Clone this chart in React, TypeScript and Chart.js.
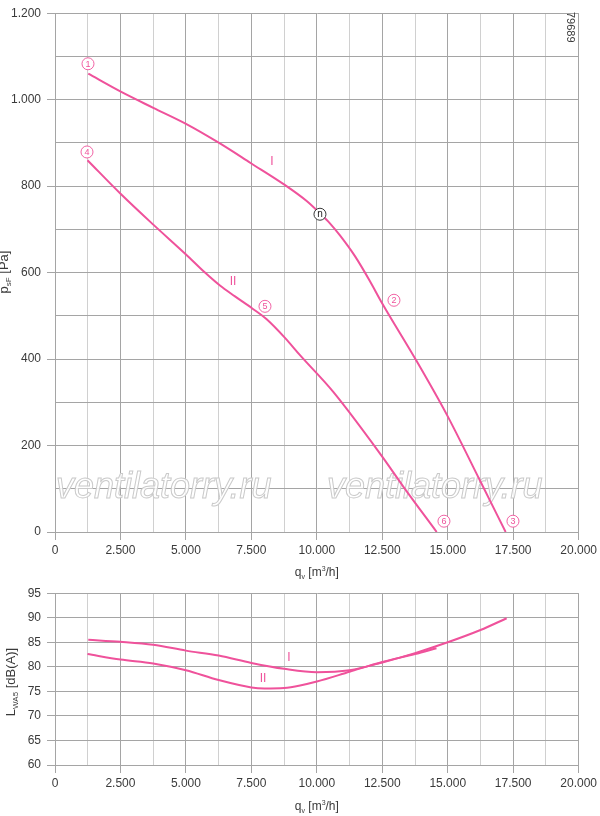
import React, { useEffect, useRef } from 'react';
import Chart from 'chart.js/auto';

// ---- data ----
const flowTicks = [0, 2500, 5000, 7500, 10000, 12500, 15000, 17500, 20000];
const pressureTicks = [0, 200, 400, 600, 800, 1000, 1200];
const soundTicks = [60, 65, 70, 75, 80, 85, 90, 95];

// curve I, static pressure [Pa]
const pressureFlowI = [1270, 2494, 3754, 5003, 6236, 7485, 8746, 9624, 10120, 10500, 10884, 11456, 12030, 12477, 13787, 14959, 16231, 17212];
const pressureI = [1060, 1019, 981, 944, 901, 853, 804, 765, 737, 714, 686, 638, 580, 531, 398, 272, 119, 0];

// curve II, static pressure [Pa]
const pressureFlowII = [1240, 2494, 3754, 5003, 5728, 6301, 6874, 7512, 8085, 8784, 9357, 10628, 12477, 13302, 14577];
const pressureII = [860, 783, 711, 642, 600, 570, 545, 518, 492, 449, 409, 324, 176, 105, 0];

// curve I, sound power [dB(A)]
const soundFlowI = [1270, 2500, 3750, 5000, 6250, 7500, 8750, 10000, 11250, 12500, 13750, 15000, 16250, 17250];
const soundI = [85.5, 85.1, 84.5, 83.3, 82.3, 80.8, 79.6, 78.9, 79.3, 80.9, 82.8, 85.0, 87.5, 89.9];

// curve II, sound power [dB(A)]
const soundFlowII = [1240, 2500, 3750, 5000, 6250, 7500, 8000, 8750, 9360, 10000, 11250, 12500, 13750, 14570];
const soundII = [82.6, 81.5, 80.7, 79.3, 77.3, 75.8, 75.6, 75.7, 76.2, 77.0, 79.0, 81.0, 82.6, 83.8];

// circled markers on the pressure chart (data coords)
const pressureMarks = [
  { text: '1', x: 1260, y: 1083 },
  { text: '4', x: 1222, y: 879 },
  { text: '5', x: 8020, y: 522 },
  { text: '2', x: 12946, y: 536 },
  { text: '6', x: 14856, y: 25 },
  { text: '3', x: 17491, y: 25 },
];
const operatingPoint = { text: 'n', x: 10120, y: 735 };
const pressureCurveNames = [
  { text: 'I', x: 8287, y: 856 },
  { text: 'II', x: 6798, y: 579 },
];
const soundCurveNames = [
  { text: 'I', x: 8936, y: 81.8 },
  { text: 'II', x: 7943, y: 77.6 },
];

const pink = '#ef529b';
const majorGrid = '#a5a5a5';
const minorGrid = '#d0d0d0';
const textColor = '#3a3a3a';
const fontFamily = '"Liberation Sans", Arial, sans-serif';

const fmt = (v: number) => String(v).replace(/\B(?=(\d{3})+(?!\d))/g, '.');
const toPoints = (xs: number[], ys: number[]) => xs.map((x, i) => ({ x, y: ys[i] }));

type Part = { t: string; size: number; dy: number };

function drawParts(ctx: CanvasRenderingContext2D, parts: Part[], cx: number, baseY: number) {
  let total = 0;
  parts.forEach(p => {
    ctx.font = `${p.size}px ${fontFamily}`;
    total += ctx.measureText(p.t).width;
  });
  let x = cx - total / 2;
  ctx.textAlign = 'left';
  ctx.textBaseline = 'alphabetic';
  parts.forEach(p => {
    ctx.font = `${p.size}px ${fontFamily}`;
    ctx.fillText(p.t, x, baseY + p.dy);
    x += ctx.measureText(p.t).width;
  });
}

const flowTitle: Part[] = [
  { t: 'q', size: 12, dy: 0 },
  { t: 'v', size: 7, dy: 3 },
  { t: ' [m', size: 12, dy: 0 },
  { t: '3', size: 7, dy: -5 },
  { t: '/h]', size: 12, dy: 0 },
];
const pressureTitle: Part[] = [
  { t: 'p', size: 13, dy: 0 },
  { t: 'sF', size: 8, dy: 3 },
  { t: ' [Pa]', size: 13, dy: 0 },
];
const soundTitle: Part[] = [
  { t: 'L', size: 13, dy: 0 },
  { t: 'WA5', size: 8, dy: 3 },
  { t: ' [dB(A)]', size: 13, dy: 0 },
];

function xAxis(height: number) {
  return {
    type: 'linear' as const,
    min: 0,
    max: 20000,
    afterFit: (s: any) => { s.height = height; },
    afterBuildTicks: (s: any) => {
      const t = [];
      for (let v = 0; v <= 20000; v += 1250) t.push({ value: v });
      s.ticks = t;
    },
    ticks: {
      autoSkip: false,
      maxRotation: 0,
      padding: 3,
      color: textColor,
      font: { family: fontFamily, size: 12 },
      callback: (v: any) => (flowTicks.includes(Number(v)) ? fmt(Number(v)) : ''),
    },
    grid: {
      tickLength: 8,
      color: (c: any) => (c.tick && c.tick.value % 2500 === 0 ? majorGrid : minorGrid),
      tickColor: (c: any) => (c.tick && c.tick.value % 2500 === 0 ? majorGrid : 'rgba(0,0,0,0)'),
    },
    border: { color: majorGrid },
  };
}

function yAxis(min: number, max: number, step: number, labels: number[]) {
  return {
    type: 'linear' as const,
    min,
    max,
    afterFit: (s: any) => { s.width = 55; },
    afterBuildTicks: (s: any) => {
      const t = [];
      for (let v = min; v <= max; v += step) t.push({ value: v });
      s.ticks = t;
    },
    ticks: {
      autoSkip: false,
      padding: 6,
      color: textColor,
      font: { family: fontFamily, size: 12 },
      callback: (v: any) => (labels.includes(Number(v)) ? fmt(Number(v)) : ''),
    },
    grid: {
      tickLength: 8,
      color: majorGrid,
      tickColor: (c: any) => (c.tick && labels.includes(c.tick.value) ? majorGrid : 'rgba(0,0,0,0)'),
    },
    border: { color: majorGrid },
  };
}

function drawCircled(ctx: CanvasRenderingContext2D, px: number, py: number, text: string, color: string, r: number, size: number) {
  ctx.save();
  ctx.beginPath();
  ctx.arc(px, py, r, 0, Math.PI * 2);
  ctx.fillStyle = '#ffffff';
  ctx.fill();
  ctx.lineWidth = 0.9;
  ctx.strokeStyle = color;
  ctx.stroke();
  ctx.fillStyle = color;
  ctx.font = `${size}px ${fontFamily}`;
  ctx.textAlign = 'center';
  ctx.textBaseline = 'middle';
  ctx.fillText(text, px, py + 0.5);
  ctx.restore();
}

function drawNames(chart: any, names: { text: string; x: number; y: number }[]) {
  const ctx = chart.ctx as CanvasRenderingContext2D;
  ctx.save();
  ctx.fillStyle = pink;
  ctx.font = `12px ${fontFamily}`;
  ctx.textAlign = 'center';
  ctx.textBaseline = 'middle';
  names.forEach(n => {
    ctx.fillText(n.text, chart.scales.x.getPixelForValue(n.x), chart.scales.y.getPixelForValue(n.y));
  });
  ctx.restore();
}

const watermarkPlugin = {
  id: 'watermark',
  beforeDatasetsDraw(chart: any) {
    const ctx = chart.ctx as CanvasRenderingContext2D;
    const a = chart.chartArea;
    ctx.save();
    ctx.font = `italic 36px ${fontFamily}`;
    ctx.textAlign = 'left';
    ctx.textBaseline = 'alphabetic';
    ctx.fillStyle = 'rgba(255,255,255,0.85)';
    ctx.strokeStyle = '#cacaca';
    ctx.lineWidth = 1;
    [a.left + 1, a.left + 272].forEach(x => {
      ctx.fillText('ventilatorry.ru', x, a.bottom - 34);
      ctx.strokeText('ventilatorry.ru', x, a.bottom - 34);
    });
    ctx.restore();
  },
};

const pressurePlugin = {
  id: 'pressureDecor',
  afterDraw(chart: any) {
    const ctx = chart.ctx as CanvasRenderingContext2D;
    const { x, y } = chart.scales;
    const a = chart.chartArea;
    drawNames(chart, pressureCurveNames);
    pressureMarks.forEach(m => drawCircled(ctx, x.getPixelForValue(m.x), y.getPixelForValue(m.y), m.text, pink, 6, 9));
    drawCircled(ctx, x.getPixelForValue(operatingPoint.x), y.getPixelForValue(operatingPoint.y), operatingPoint.text, '#222222', 6, 10);

    ctx.save();
    ctx.fillStyle = textColor;
    drawParts(ctx, flowTitle, (a.left + a.right) / 2, 576);
    ctx.translate(8, 272);
    ctx.rotate(-Math.PI / 2);
    drawParts(ctx, pressureTitle, 0, 0);
    ctx.restore();

    ctx.save();
    ctx.fillStyle = textColor;
    ctx.font = `11px ${fontFamily}`;
    ctx.translate(567, 12);
    ctx.rotate(Math.PI / 2);
    ctx.textAlign = 'left';
    ctx.textBaseline = 'alphabetic';
    ctx.fillText('79689', 0, 0);
    ctx.restore();
  },
};

const soundPlugin = {
  id: 'soundDecor',
  afterDraw(chart: any) {
    const ctx = chart.ctx as CanvasRenderingContext2D;
    const a = chart.chartArea;
    drawNames(chart, soundCurveNames);
    ctx.save();
    ctx.fillStyle = textColor;
    drawParts(ctx, flowTitle, (a.left + a.right) / 2, 230);
    ctx.translate(15, 102);
    ctx.rotate(-Math.PI / 2);
    drawParts(ctx, soundTitle, 0, 0);
    ctx.restore();
  },
};

function lineSet(label: string, xs: number[], ys: number[]) {
  return {
    label,
    data: toPoints(xs, ys),
    borderColor: pink,
    borderWidth: 2,
    pointRadius: 0,
    cubicInterpolationMode: 'monotone' as const,
    fill: false,
  };
}

const App: React.FC = () => {
  const topRef = useRef<HTMLCanvasElement | null>(null);
  const bottomRef = useRef<HTMLCanvasElement | null>(null);

  useEffect(() => {
    if (!topRef.current || !bottomRef.current) return;

    const top = new Chart(topRef.current, {
      type: 'line',
      data: {
        datasets: [
          lineSet('I', pressureFlowI, pressureI),
          lineSet('II', pressureFlowII, pressureII),
        ],
      },
      options: {
        animation: false,
        responsive: false,
        layout: { padding: { left: 0, right: 21, top: 8, bottom: 0 } },
        plugins: { legend: { display: false }, tooltip: { enabled: false } },
        scales: {
          x: xAxis(48),
          y: yAxis(0, 1200, 100, pressureTicks),
        },
      } as any,
      plugins: [watermarkPlugin, pressurePlugin],
    });

    const bottom = new Chart(bottomRef.current, {
      type: 'line',
      data: {
        datasets: [
          lineSet('I', soundFlowI, soundI),
          lineSet('II', soundFlowII, soundII),
        ],
      },
      options: {
        animation: false,
        responsive: false,
        layout: { padding: { left: 0, right: 21, top: 10, bottom: 0 } },
        plugins: { legend: { display: false }, tooltip: { enabled: false } },
        scales: {
          x: xAxis(51),
          y: yAxis(60, 95, 5, soundTicks),
        },
      } as any,
      plugins: [soundPlugin],
    });

    return () => {
      top.destroy();
      bottom.destroy();
    };
  }, []);

  return (
    <div style={{ position: 'absolute', left: 0, top: 0, width: 600, height: 816, background: '#fff' }}>
      <canvas ref={topRef} width={600} height={580} style={{ position: 'absolute', left: 0, top: 0 }} />
      <canvas ref={bottomRef} width={600} height={236} style={{ position: 'absolute', left: 0, top: 580 }} />
    </div>
  );
};

export default App;
